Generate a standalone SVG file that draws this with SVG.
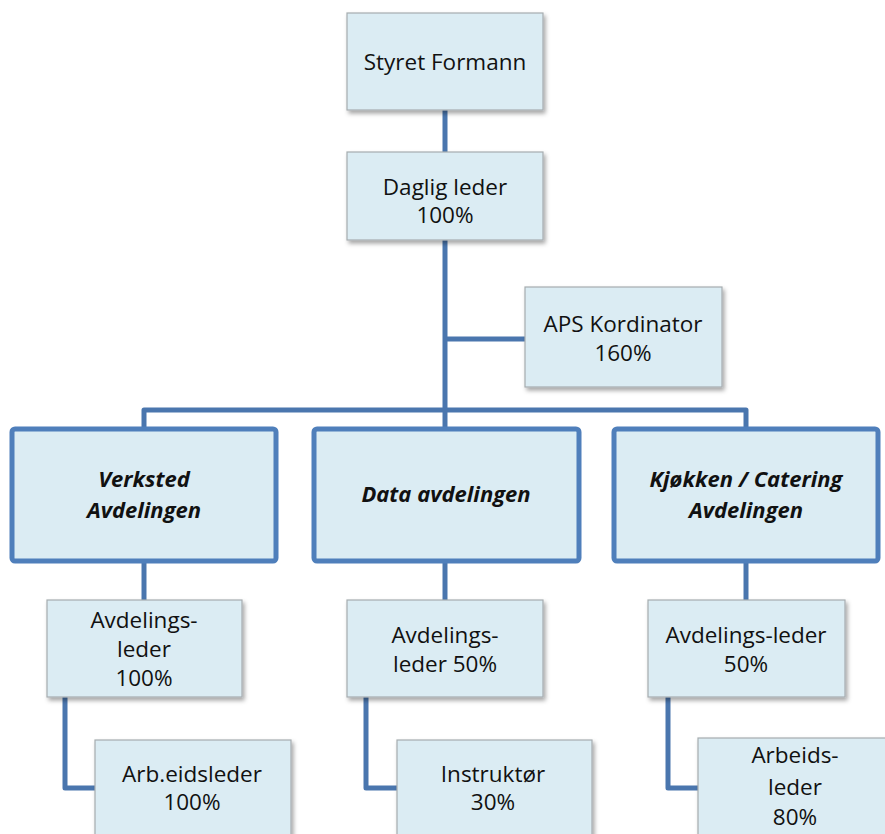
<svg xmlns="http://www.w3.org/2000/svg" width="885" height="834" viewBox="0 0 885 834">
<style>
.box{fill:#dbecf3;stroke:#a6acb0;stroke-width:1.2;filter:url(#sh)}
.head{fill:#dbecf3;stroke:#4f7fbb;stroke-width:5}
.conn{fill:none;stroke:#4a76ae;stroke-width:5;stroke-linejoin:round}
text{font-family:"Open Sans","Liberation Sans",sans-serif;font-size:22.5px;fill:#111;text-anchor:middle}
.h{font-weight:bold;font-style:italic;font-size:22px}
</style>
<defs>
<filter id="sh" x="-10%" y="-10%" width="125%" height="130%">
<feDropShadow dx="2" dy="3" stdDeviation="2.2" flood-color="#000" flood-opacity="0.35"/>
</filter>
</defs>
<rect width="885" height="834" fill="#fff"/>
<g id="connectors">
<path class="conn" d="M445 110 V410"/>
<path class="conn" d="M445 339 H527"/>
<path class="conn" d="M144 428 V410 H746 V428"/>
<path class="conn" d="M445 410 V428"/>
<path class="conn" d="M144 562 V600"/>
<path class="conn" d="M445 562 V600"/>
<path class="conn" d="M746 562 V600"/>
<path class="conn" d="M65 697 V788 H96"/>
<path class="conn" d="M366 697 V788 H398"/>
<path class="conn" d="M668 697 V788 H699"/>
</g>
<g id="styret">
<rect class="box" x="347" y="13" width="196" height="97"/>
<text x="445" y="70">Styret Formann</text>
</g>
<g id="daglig">
<rect class="box" x="347" y="152" width="196" height="88"/>
<text x="445" y="195">Daglig leder</text>
<text x="445" y="223">100%</text>
</g>
<g id="aps">
<rect class="box" x="525" y="287" width="197" height="100"/>
<text x="623" y="332">APS Kordinator</text>
<text x="623" y="361">160%</text>
</g>
<g id="verksted">
<rect class="head" x="12" y="429" width="264" height="132" rx="3"/>
<text class="h" x="144" y="487">Verksted</text>
<text class="h" x="144" y="518">Avdelingen</text>
</g>
<g id="data">
<rect class="head" x="314" y="429" width="265" height="132" rx="3"/>
<text class="h" x="446" y="502">Data avdelingen</text>
</g>
<g id="kjokken">
<rect class="head" x="614" y="429" width="264" height="132" rx="3"/>
<text class="h" x="746" y="487">Kjøkken / Catering</text>
<text class="h" x="746" y="518">Avdelingen</text>
</g>
<g id="avd1">
<rect class="box" x="47" y="600" width="195" height="97"/>
<text x="144" y="628">Avdelings-</text>
<text x="144" y="657">leder</text>
<text x="144" y="686">100%</text>
</g>
<g id="avd2">
<rect class="box" x="347" y="600" width="196" height="97"/>
<text x="445" y="643">Avdelings-</text>
<text x="445" y="672">leder 50%</text>
</g>
<g id="avd3">
<rect class="box" x="648" y="600" width="197" height="97"/>
<text x="746" y="643">Avdelings-leder</text>
<text x="746" y="672">50%</text>
</g>
<g id="arb1">
<rect class="box" x="95" y="740" width="196" height="110"/>
<text x="192" y="782">Arb.eidsleder</text>
<text x="192" y="810">100%</text>
</g>
<g id="instruktor">
<rect class="box" x="397" y="740" width="195" height="110"/>
<text x="493" y="782">Instruktør</text>
<text x="493" y="810">30%</text>
</g>
<g id="arb3">
<rect class="box" x="698" y="738" width="196" height="112"/>
<text x="795" y="763">Arbeids-</text>
<text x="795" y="795">leder</text>
<text x="795" y="825">80%</text>
</g>
</svg>
